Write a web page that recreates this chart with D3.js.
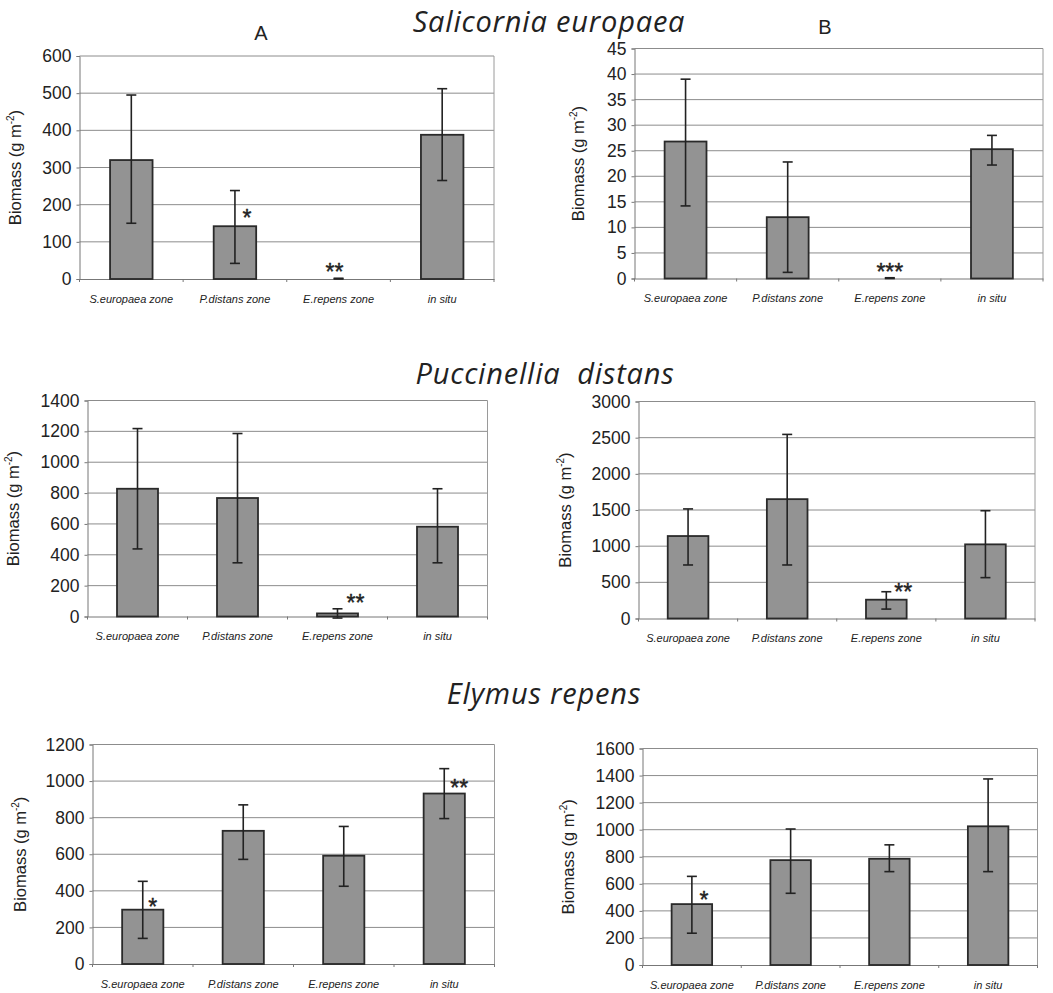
<!DOCTYPE html>
<html>
<head>
<meta charset="utf-8">
<script src="https://cdn.jsdelivr.net/npm/d3@7"></script>
<style>
  body { margin: 0; background: #fff; }
  svg { display: block; }
</style>
</head>
<body>
<div id="chart"></div>
<script>
const categories = ['S.europaea zone', 'P.distans zone', 'E.repens zone', 'in situ'];

// Salicornia europaea
const salA = [320, 142, 0, 388];
const salAlo = [150, 42, 0, 265];
const salAhi = [495, 238, 2, 512];
const salAticks = [0, 100, 200, 300, 400, 500, 600];

const salB = [26.8, 12, 0, 25.3];
const salBlo = [14.2, 1.2, 0, 22.2];
const salBhi = [39, 22.8, 0.15, 28];
const salBticks = [0, 5, 10, 15, 20, 25, 30, 35, 40, 45];

// Puccinellia distans
const pucA = [828, 768, 20, 582];
const pucAlo = [438, 348, -10, 348];
const pucAhi = [1218, 1186, 50, 828];
const pucAticks = [0, 200, 400, 600, 800, 1000, 1200, 1400];

const pucB = [1140, 1650, 260, 1025];
const pucBlo = [740, 740, 130, 565];
const pucBhi = [1515, 2545, 370, 1490];
const pucBticks = [0, 500, 1000, 1500, 2000, 2500, 3000];

// Elymus repens
const elyA = [297, 728, 592, 932];
const elyAlo = [140, 572, 425, 795];
const elyAhi = [452, 870, 752, 1068];
const elyAticks = [0, 200, 400, 600, 800, 1000, 1200];

const elyB = [450, 775, 785, 1025];
const elyBlo = [235, 530, 690, 690];
const elyBhi = [655, 1005, 888, 1375];
const elyBticks = [0, 200, 400, 600, 800, 1000, 1200, 1400, 1600];

// significance marks: [category index, text, y value]
const salAstars = [[1, '*', 178], [2, '**', 32]];
const salBstars = [[2, '***', 2.3]];
const pucAstars = [[2, '**', 121]];
const pucBstars = [[2, '**', 433]];
const elyAstars = [[0, '*', 340], [3, '**', 990]];
const elyBstars = [[0, '*', 518]];

const titles = ['Salicornia europaea', 'Puccinellia  distans', 'Elymus repens'];

const W = 1053, H = 993;
const FONT = '"Liberation Sans", Arial, sans-serif';
const svg = d3.select('#chart').append('svg')
  .attr('width', W).attr('height', H)
  .attr('font-family', FONT);

const panels = [
  {v: salA, lo: salAlo, hi: salAhi, ticks: salAticks, stars: salAstars, starDx: [12, -4],
   left: 79.5, right: 494, top: 56, bottom: 279, labelX: 21},
  {v: salB, lo: salBlo, hi: salBhi, ticks: salBticks, stars: salBstars, starDx: [0],
   left: 634.5, right: 1043, top: 48.5, bottom: 278.5, labelX: 584},
  {v: pucA, lo: pucAlo, hi: pucAhi, ticks: pucAticks, stars: pucAstars, starDx: [18],
   left: 87.5, right: 487.5, top: 400.5, bottom: 616.5, labelX: 19},
  {v: pucB, lo: pucBlo, hi: pucBhi, ticks: pucBticks, stars: pucBstars, starDx: [17],
   left: 638.5, right: 1035, top: 401.5, bottom: 618.5, labelX: 571},
  {v: elyA, lo: elyAlo, hi: elyAhi, ticks: elyAticks, stars: elyAstars, starDx: [10, 15],
   left: 92.5, right: 494.5, top: 744.5, bottom: 964, labelX: 26},
  {v: elyB, lo: elyBlo, hi: elyBhi, ticks: elyBticks, stars: elyBstars, starDx: [12],
   left: 642.5, right: 1037.5, top: 748.5, bottom: 965, labelX: 574}
];

panels.forEach(function(p) {
  const x = d3.scaleBand().domain(categories).range([p.left, p.right]).padding(0);
  const y = d3.scaleLinear().domain([0, d3.max(p.ticks)]).range([p.bottom, p.top]);
  const g = svg.append('g');

  // gridlines
  g.selectAll('.grid').data(p.ticks.slice(1)).enter().append('line')
    .attr('x1', p.left).attr('x2', p.right)
    .attr('y1', d => y(d)).attr('y2', d => y(d))
    .attr('stroke', '#8c8c8c').attr('stroke-width', 1);
  // right border
  g.append('line').attr('x1', p.right).attr('x2', p.right)
    .attr('y1', p.top).attr('y2', p.bottom)
    .attr('stroke', '#9a9a9a').attr('stroke-width', 1);

  // y axis
  const yAxis = g.append('g').attr('transform', `translate(${p.left},0)`)
    .call(d3.axisLeft(y).tickValues(p.ticks).tickSize(3).tickPadding(5).tickFormat(d3.format('d')));
  yAxis.attr('font-family', FONT).attr('font-size', 17.5);
  yAxis.select('.domain').attr('stroke', '#777');
  yAxis.selectAll('.tick line').attr('stroke', '#777');
  yAxis.selectAll('text').attr('fill', '#222');

  // x axis
  const xAxis = g.append('g').attr('transform', `translate(0,${p.bottom})`)
    .call(d3.axisBottom(x).tickSize(0).tickPadding(16));
  xAxis.attr('font-family', FONT).attr('font-size', 11);
  xAxis.select('.domain').attr('stroke', '#777');
  xAxis.selectAll('text').attr('font-style', 'italic').attr('fill', '#222');
  g.selectAll('.xtick').data(d3.range(categories.length + 1)).enter().append('line')
    .attr('x1', i => p.left + i * x.bandwidth()).attr('x2', i => p.left + i * x.bandwidth())
    .attr('y1', p.bottom).attr('y2', p.bottom + 3)
    .attr('stroke', '#777');

  const bw = x.bandwidth() * 0.41;
  const cx = c => x(c) + x.bandwidth() / 2;

  // bars
  g.selectAll('.bar').data(categories.filter((c, i) => p.v[i] > 0)).enter().append('rect')
    .attr('x', c => cx(c) - bw / 2)
    .attr('y', c => y(p.v[categories.indexOf(c)]))
    .attr('width', bw)
    .attr('height', c => y(0) - y(p.v[categories.indexOf(c)]))
    .attr('fill', '#939393').attr('stroke', '#2a2a2a').attr('stroke-width', 1.8);

  // error bars
  categories.forEach(function(c, i) {
    const ex = cx(c);
    g.append('line').attr('x1', ex).attr('x2', ex)
      .attr('y1', y(p.lo[i])).attr('y2', y(p.hi[i]))
      .attr('stroke', '#222').attr('stroke-width', 1.6);
    [p.lo[i], p.hi[i]].forEach(function(e) {
      g.append('line').attr('x1', ex - 5).attr('x2', ex + 5)
        .attr('y1', y(e)).attr('y2', y(e))
        .attr('stroke', '#222').attr('stroke-width', 1.6);
    });
  });

  // significance asterisks
  p.stars.forEach(function(s, k) {
    g.append('text')
      .attr('x', cx(categories[s[0]]) + p.starDx[k])
      .attr('y', y(s[2]) + 13)
      .attr('text-anchor', 'middle')
      .attr('font-size', 23)
      .attr('fill', '#222')
      .attr('stroke', '#222').attr('stroke-width', 0.4)
      .text(s[1]);
  });

  // y label
  const yl = g.append('text')
    .attr('transform', `translate(${p.labelX},${(p.top + p.bottom) / 2}) rotate(-90)`)
    .attr('text-anchor', 'middle')
    .attr('font-size', 16.5)
    .attr('fill', '#222');
  yl.append('tspan').text('Biomass (g m');
  yl.append('tspan').attr('font-size', 10).attr('dy', -7).text('-2');
  yl.append('tspan').attr('dy', 7).text(')');
});

// panel letters
svg.append('text').attr('x', 261).attr('y', 40).attr('text-anchor', 'middle')
  .attr('font-size', 20).attr('fill', '#222').text('A');
svg.append('text').attr('x', 825).attr('y', 34).attr('text-anchor', 'middle')
  .attr('font-size', 20).attr('fill', '#222').text('B');

// species titles
const titleY = [32, 384, 704];
const titleX = [549, 545, 544];
titles.forEach(function(t, i) {
  svg.append('text').attr('x', titleX[i]).attr('y', titleY[i])
    .attr('text-anchor', 'middle')
    .attr('font-family', '"Open Sans", sans-serif')
    .attr('font-style', 'italic')
    .attr('font-size', 29)
    .attr('letter-spacing', 0.8)
    .attr('fill', '#222')
    .style('white-space', 'pre')
    .text(t);
});
</script>
</body>
</html>
